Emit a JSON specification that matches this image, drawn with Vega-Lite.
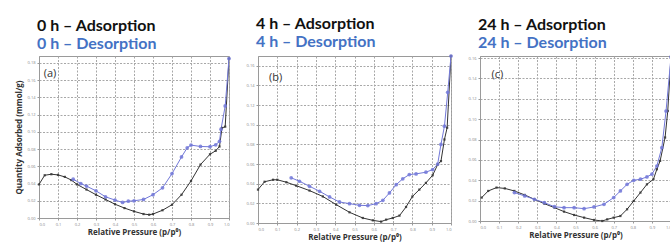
{
  "$schema": "https://vega.github.io/schema/vega-lite/v6.json",
  "padding": {"left": 14, "top": 15, "right": 0, "bottom": 0},
  "background": "white",
  "spacing": 13,
  "datasets": {
    "a": [
      {"s": "Adsorption", "x": 0.0, "y": 0.039}, {"s": "Adsorption", "x": 0.03, "y": 0.0496}, {"s": "Adsorption", "x": 0.065, "y": 0.0508}, {"s": "Adsorption", "x": 0.1, "y": 0.05}, {"s": "Adsorption", "x": 0.136, "y": 0.0477}, {"s": "Adsorption", "x": 0.17, "y": 0.044}, {"s": "Adsorption", "x": 0.2, "y": 0.039}, {"s": "Adsorption", "x": 0.25, "y": 0.033}, {"s": "Adsorption", "x": 0.3, "y": 0.027}, {"s": "Adsorption", "x": 0.35, "y": 0.0215}, {"s": "Adsorption", "x": 0.4, "y": 0.016}, {"s": "Adsorption", "x": 0.45, "y": 0.0115}, {"s": "Adsorption", "x": 0.5, "y": 0.0077}, {"s": "Adsorption", "x": 0.55, "y": 0.0046}, {"s": "Adsorption", "x": 0.58, "y": 0.0038}, {"s": "Adsorption", "x": 0.6, "y": 0.0046}, {"s": "Adsorption", "x": 0.65, "y": 0.009}, {"s": "Adsorption", "x": 0.7, "y": 0.0154}, {"s": "Adsorption", "x": 0.75, "y": 0.027}, {"s": "Adsorption", "x": 0.8, "y": 0.043}, {"s": "Adsorption", "x": 0.85, "y": 0.062}, {"s": "Adsorption", "x": 0.9, "y": 0.074}, {"s": "Adsorption", "x": 0.93, "y": 0.078}, {"s": "Adsorption", "x": 0.95, "y": 0.083}, {"s": "Adsorption", "x": 0.963, "y": 0.1045}, {"s": "Adsorption", "x": 0.98, "y": 0.106}, {"s": "Adsorption", "x": 1.0, "y": 0.185},
      {"s": "Desorption", "x": 0.18, "y": 0.045}, {"s": "Desorption", "x": 0.22, "y": 0.04}, {"s": "Desorption", "x": 0.25, "y": 0.037}, {"s": "Desorption", "x": 0.3, "y": 0.0315}, {"s": "Desorption", "x": 0.35, "y": 0.0246}, {"s": "Desorption", "x": 0.4, "y": 0.0208}, {"s": "Desorption", "x": 0.44, "y": 0.018}, {"s": "Desorption", "x": 0.47, "y": 0.0195}, {"s": "Desorption", "x": 0.5, "y": 0.02}, {"s": "Desorption", "x": 0.55, "y": 0.0215}, {"s": "Desorption", "x": 0.6, "y": 0.027}, {"s": "Desorption", "x": 0.65, "y": 0.035}, {"s": "Desorption", "x": 0.7, "y": 0.0515}, {"s": "Desorption", "x": 0.75, "y": 0.0708}, {"s": "Desorption", "x": 0.78, "y": 0.0815}, {"s": "Desorption", "x": 0.8, "y": 0.0846}, {"s": "Desorption", "x": 0.85, "y": 0.083}, {"s": "Desorption", "x": 0.9, "y": 0.0827}, {"s": "Desorption", "x": 0.93, "y": 0.085}, {"s": "Desorption", "x": 0.95, "y": 0.089}, {"s": "Desorption", "x": 0.958, "y": 0.103}, {"s": "Desorption", "x": 0.98, "y": 0.13}, {"s": "Desorption", "x": 1.0, "y": 0.185}
    ],
    "b": [
      {"s": "Adsorption", "x": 0.0, "y": 0.034}, {"s": "Adsorption", "x": 0.034, "y": 0.042}, {"s": "Adsorption", "x": 0.078, "y": 0.044}, {"s": "Adsorption", "x": 0.1, "y": 0.044}, {"s": "Adsorption", "x": 0.147, "y": 0.0415}, {"s": "Adsorption", "x": 0.198, "y": 0.038}, {"s": "Adsorption", "x": 0.267, "y": 0.033}, {"s": "Adsorption", "x": 0.336, "y": 0.027}, {"s": "Adsorption", "x": 0.405, "y": 0.0187}, {"s": "Adsorption", "x": 0.474, "y": 0.0109}, {"s": "Adsorption", "x": 0.543, "y": 0.0051}, {"s": "Adsorption", "x": 0.595, "y": 0.0027}, {"s": "Adsorption", "x": 0.638, "y": 0.0014}, {"s": "Adsorption", "x": 0.664, "y": 0.0034}, {"s": "Adsorption", "x": 0.698, "y": 0.0051}, {"s": "Adsorption", "x": 0.733, "y": 0.0075}, {"s": "Adsorption", "x": 0.767, "y": 0.0163}, {"s": "Adsorption", "x": 0.8, "y": 0.027}, {"s": "Adsorption", "x": 0.836, "y": 0.034}, {"s": "Adsorption", "x": 0.87, "y": 0.0408}, {"s": "Adsorption", "x": 0.905, "y": 0.0486}, {"s": "Adsorption", "x": 0.931, "y": 0.0595}, {"s": "Adsorption", "x": 0.948, "y": 0.063}, {"s": "Adsorption", "x": 0.966, "y": 0.085}, {"s": "Adsorption", "x": 0.98, "y": 0.097}, {"s": "Adsorption", "x": 1.0, "y": 0.17},
      {"s": "Desorption", "x": 0.172, "y": 0.046}, {"s": "Desorption", "x": 0.215, "y": 0.0425}, {"s": "Desorption", "x": 0.267, "y": 0.0374}, {"s": "Desorption", "x": 0.319, "y": 0.0323}, {"s": "Desorption", "x": 0.371, "y": 0.0265}, {"s": "Desorption", "x": 0.422, "y": 0.0214}, {"s": "Desorption", "x": 0.474, "y": 0.0197}, {"s": "Desorption", "x": 0.526, "y": 0.018}, {"s": "Desorption", "x": 0.569, "y": 0.0177}, {"s": "Desorption", "x": 0.612, "y": 0.0197}, {"s": "Desorption", "x": 0.647, "y": 0.0231}, {"s": "Desorption", "x": 0.681, "y": 0.0306}, {"s": "Desorption", "x": 0.716, "y": 0.039}, {"s": "Desorption", "x": 0.75, "y": 0.045}, {"s": "Desorption", "x": 0.784, "y": 0.0493}, {"s": "Desorption", "x": 0.819, "y": 0.05}, {"s": "Desorption", "x": 0.87, "y": 0.0517}, {"s": "Desorption", "x": 0.905, "y": 0.0544}, {"s": "Desorption", "x": 0.931, "y": 0.06}, {"s": "Desorption", "x": 0.948, "y": 0.08}, {"s": "Desorption", "x": 0.966, "y": 0.0986}, {"s": "Desorption", "x": 0.983, "y": 0.133}, {"s": "Desorption", "x": 1.0, "y": 0.17}
    ],
    "c": [
      {"s": "Adsorption", "x": 0.009, "y": 0.023}, {"s": "Adsorption", "x": 0.043, "y": 0.0295}, {"s": "Adsorption", "x": 0.0865, "y": 0.0328}, {"s": "Adsorption", "x": 0.13, "y": 0.032}, {"s": "Adsorption", "x": 0.18, "y": 0.0295}, {"s": "Adsorption", "x": 0.234, "y": 0.0256}, {"s": "Adsorption", "x": 0.285, "y": 0.0213}, {"s": "Adsorption", "x": 0.337, "y": 0.017}, {"s": "Adsorption", "x": 0.39, "y": 0.0131}, {"s": "Adsorption", "x": 0.44, "y": 0.0092}, {"s": "Adsorption", "x": 0.493, "y": 0.0059}, {"s": "Adsorption", "x": 0.545, "y": 0.0033}, {"s": "Adsorption", "x": 0.597, "y": 0.001}, {"s": "Adsorption", "x": 0.64, "y": 0.0}, {"s": "Adsorption", "x": 0.666, "y": 0.0016}, {"s": "Adsorption", "x": 0.7, "y": 0.0033}, {"s": "Adsorption", "x": 0.735, "y": 0.0049}, {"s": "Adsorption", "x": 0.77, "y": 0.0115}, {"s": "Adsorption", "x": 0.805, "y": 0.0197}, {"s": "Adsorption", "x": 0.84, "y": 0.0279}, {"s": "Adsorption", "x": 0.874, "y": 0.036}, {"s": "Adsorption", "x": 0.908, "y": 0.041}, {"s": "Adsorption", "x": 0.926, "y": 0.0508}, {"s": "Adsorption", "x": 0.943, "y": 0.059}, {"s": "Adsorption", "x": 0.969, "y": 0.082}, {"s": "Adsorption", "x": 0.983, "y": 0.108}, {"s": "Adsorption", "x": 1.0, "y": 0.161},
      {"s": "Desorption", "x": 0.18, "y": 0.0279}, {"s": "Desorption", "x": 0.234, "y": 0.0246}, {"s": "Desorption", "x": 0.285, "y": 0.0213}, {"s": "Desorption", "x": 0.337, "y": 0.018}, {"s": "Desorption", "x": 0.39, "y": 0.014}, {"s": "Desorption", "x": 0.44, "y": 0.0131}, {"s": "Desorption", "x": 0.493, "y": 0.0131}, {"s": "Desorption", "x": 0.545, "y": 0.0121}, {"s": "Desorption", "x": 0.597, "y": 0.0138}, {"s": "Desorption", "x": 0.649, "y": 0.0164}, {"s": "Desorption", "x": 0.7, "y": 0.023}, {"s": "Desorption", "x": 0.735, "y": 0.0295}, {"s": "Desorption", "x": 0.77, "y": 0.036}, {"s": "Desorption", "x": 0.805, "y": 0.04}, {"s": "Desorption", "x": 0.84, "y": 0.041}, {"s": "Desorption", "x": 0.874, "y": 0.0433}, {"s": "Desorption", "x": 0.9, "y": 0.046}, {"s": "Desorption", "x": 0.926, "y": 0.054}, {"s": "Desorption", "x": 0.952, "y": 0.072}, {"s": "Desorption", "x": 0.974, "y": 0.108}, {"s": "Desorption", "x": 1.0, "y": 0.161}
    ],
    "labels": [
      {"p": "a", "t": "(a)", "x": 0.025, "y": 0.167},
      {"p": "b", "t": "(b)", "x": 0.057, "y": 0.148},
      {"p": "c", "t": "(c)", "x": 0.06, "y": 0.1436}
    ]
  },
  "config": {
    "view": {"stroke": "#9a9a9a", "strokeWidth": 1},
    "axis": {
      "grid": true, "gridDash": [2, 1.5], "gridColor": "#a8a8a8", "gridWidth": 1,
      "domainColor": "#9a9a9a", "tickColor": "#9a9a9a", "tickSize": 2,
      "labelFontSize": 4, "labelColor": "#888", "labelFont": "Open Sans", "labelPadding": 2, "labelOverlap": false,
      "titleFont": "Open Sans", "titleFontSize": 8, "titleFontWeight": "bold", "titleColor": "#333"
    },
    "axisX": {"titlePadding": 2, "tickCount": 20},
    "axisY": {"tickCount": 20},
    "title": {
      "anchor": "start", "frame": "group", "font": "Lato", "fontSize": 16, "fontWeight": "bold", "color": "#111",
      "subtitleFont": "Lato", "subtitleFontSize": 16, "subtitleFontWeight": "bold", "subtitleColor": "#4472c4",
      "subtitlePadding": 2, "offset": 4, "dx": -2
    }
  },
  "hconcat": [
    {
      "width": 190, "height": 162,
      "title": {"text": "0 h – Adsorption", "subtitle": "0 h – Desorption"},
      "layer": [
        {"data": {"name": "a"}, "mark": {"type": "line", "strokeWidth": 1, "clip": true},
         "encoding": {
           "x": {"field": "x", "type": "quantitative", "scale": {"domain": [0, 1]}, "axis": {"values": [0, 0.1, 0.2, 0.3, 0.4, 0.5, 0.6, 0.7, 0.8, 0.9, 1.0], "tickCount": 20, "format": ".1f", "labelOverlap": false, "title": "Relative Pressure (p/p⁰)"}},
           "y": {"field": "y", "type": "quantitative", "scale": {"domain": [0, 0.188], "nice": false}, "axis": {"values": [0, 0.02, 0.04, 0.06, 0.08, 0.1, 0.12, 0.14, 0.16, 0.18], "tickCount": 20, "format": ".2f", "labelOverlap": false, "title": "Quantity Adsorbed (mmol/g)", "titlePadding": 4}},
           "color": {"field": "s", "type": "nominal", "scale": {"domain": ["Adsorption", "Desorption"], "range": ["#333333", "#7278d8"]}, "legend": null}
         }},
        {"data": {"name": "a"}, "mark": {"type": "point", "filled": true, "opacity": 0.85},
         "encoding": {
           "x": {"field": "x", "type": "quantitative"},
           "y": {"field": "y", "type": "quantitative"},
           "color": {"field": "s", "type": "nominal", "scale": {"domain": ["Adsorption", "Desorption"], "range": ["#333333", "#7f86e0"]}, "legend": null},
           "shape": {"field": "s", "type": "nominal", "scale": {"domain": ["Adsorption", "Desorption"], "range": ["square", "circle"]}, "legend": null},
           "size": {"field": "s", "type": "nominal", "scale": {"domain": ["Adsorption", "Desorption"], "range": [5, 14]}, "legend": null}
         }},
        {"data": {"name": "labels"}, "transform": [{"filter": "datum.p == 'a'"}],
         "mark": {"type": "text", "align": "left", "baseline": "middle", "font": "Open Sans", "fontSize": 11, "color": "#333"},
         "encoding": {"x": {"field": "x", "type": "quantitative"}, "y": {"field": "y", "type": "quantitative"}, "text": {"field": "t"}}}
      ]
    },
    {
      "width": 193, "height": 167,
      "title": {"text": "4 h – Adsorption", "subtitle": "4 h – Desorption"},
      "layer": [
        {"data": {"name": "b"}, "mark": {"type": "line", "strokeWidth": 1, "clip": true},
         "encoding": {
           "x": {"field": "x", "type": "quantitative", "scale": {"domain": [0, 1]}, "axis": {"values": [0, 0.1, 0.2, 0.3, 0.4, 0.5, 0.6, 0.7, 0.8, 0.9, 1.0], "tickCount": 20, "format": ".1f", "labelOverlap": false, "title": "Relative Pressure (p/p⁰)"}},
           "y": {"field": "y", "type": "quantitative", "scale": {"domain": [0, 0.17], "nice": false}, "axis": {"values": [0, 0.02, 0.04, 0.06, 0.08, 0.1, 0.12, 0.14, 0.16], "tickCount": 20, "format": ".2f", "labelOverlap": false, "title": null}},
           "color": {"field": "s", "type": "nominal", "scale": {"domain": ["Adsorption", "Desorption"], "range": ["#333333", "#7278d8"]}, "legend": null}
         }},
        {"data": {"name": "b"}, "mark": {"type": "point", "filled": true, "opacity": 0.85},
         "encoding": {
           "x": {"field": "x", "type": "quantitative"},
           "y": {"field": "y", "type": "quantitative"},
           "color": {"field": "s", "type": "nominal", "scale": {"domain": ["Adsorption", "Desorption"], "range": ["#333333", "#7f86e0"]}, "legend": null},
           "shape": {"field": "s", "type": "nominal", "scale": {"domain": ["Adsorption", "Desorption"], "range": ["square", "circle"]}, "legend": null},
           "size": {"field": "s", "type": "nominal", "scale": {"domain": ["Adsorption", "Desorption"], "range": [5, 14]}, "legend": null}
         }},
        {"data": {"name": "labels"}, "transform": [{"filter": "datum.p == 'b'"}],
         "mark": {"type": "text", "align": "left", "baseline": "middle", "font": "Open Sans", "fontSize": 11, "color": "#333"},
         "encoding": {"x": {"field": "x", "type": "quantitative"}, "y": {"field": "y", "type": "quantitative"}, "text": {"field": "t"}}}
      ]
    },
    {
      "width": 191, "height": 165,
      "title": {"text": "24 h – Adsorption", "subtitle": "24 h – Desorption"},
      "layer": [
        {"data": {"name": "c"}, "mark": {"type": "line", "strokeWidth": 1, "clip": true},
         "encoding": {
           "x": {"field": "x", "type": "quantitative", "scale": {"domain": [0, 1]}, "axis": {"values": [0, 0.1, 0.2, 0.3, 0.4, 0.5, 0.6, 0.7, 0.8, 0.9, 1.0], "tickCount": 20, "format": ".1f", "labelOverlap": false, "labelFlush": true, "title": "Relative Pressure (p/p⁰)"}},
           "y": {"field": "y", "type": "quantitative", "scale": {"domain": [0, 0.162], "nice": false}, "axis": {"values": [0, 0.02, 0.04, 0.06, 0.08, 0.1, 0.12, 0.14, 0.16], "tickCount": 20, "format": ".2f", "labelOverlap": false, "title": null}},
           "color": {"field": "s", "type": "nominal", "scale": {"domain": ["Adsorption", "Desorption"], "range": ["#333333", "#7278d8"]}, "legend": null}
         }},
        {"data": {"name": "c"}, "mark": {"type": "point", "filled": true, "opacity": 0.85},
         "encoding": {
           "x": {"field": "x", "type": "quantitative"},
           "y": {"field": "y", "type": "quantitative"},
           "color": {"field": "s", "type": "nominal", "scale": {"domain": ["Adsorption", "Desorption"], "range": ["#333333", "#7f86e0"]}, "legend": null},
           "shape": {"field": "s", "type": "nominal", "scale": {"domain": ["Adsorption", "Desorption"], "range": ["square", "circle"]}, "legend": null},
           "size": {"field": "s", "type": "nominal", "scale": {"domain": ["Adsorption", "Desorption"], "range": [5, 14]}, "legend": null}
         }},
        {"data": {"name": "labels"}, "transform": [{"filter": "datum.p == 'c'"}],
         "mark": {"type": "text", "align": "left", "baseline": "middle", "font": "Open Sans", "fontSize": 11, "color": "#333"},
         "encoding": {"x": {"field": "x", "type": "quantitative"}, "y": {"field": "y", "type": "quantitative"}, "text": {"field": "t"}}}
      ]
    }
  ]
}
